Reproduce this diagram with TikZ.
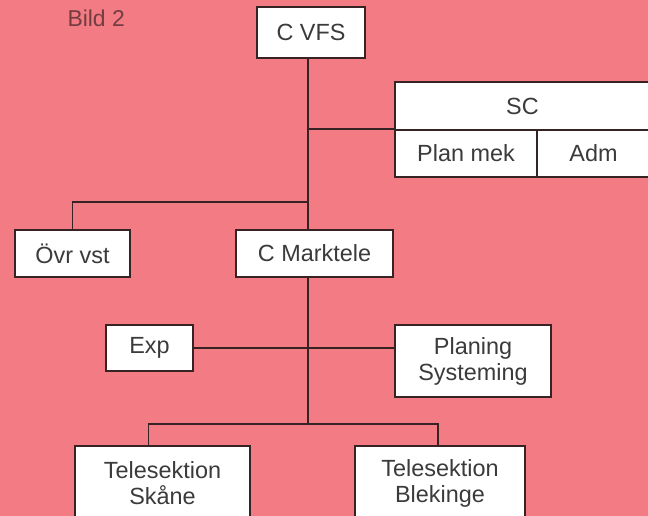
\documentclass[tikz,border=0pt]{standalone}
\usepackage{fontspec}
\setmainfont{Liberation Sans}
\usetikzlibrary{positioning}
\definecolor{bgpink}{RGB}{243,124,132}
\definecolor{inkline}{RGB}{55,35,35}
\definecolor{inktext}{RGB}{60,58,60}
\definecolor{caption}{RGB}{115,60,65}
\tikzset{
  unit/.style={draw=inkline,line width=1.6pt,fill=white,rectangle,inner sep=0pt,
    align=center,text=inktext,font=\fontsize{23.5}{26}\selectfont},
  conn/.style={draw=inkline,line width=1.8pt}
}
\begin{document}
\begin{tikzpicture}[x=1bp,y=-1bp]
\fill[bgpink] (0,0) rectangle (648,516);
\useasboundingbox (0,0) rectangle (648,516);
\node[anchor=west,text=caption,font=\fontsize{23}{26}\selectfont] (bild) at (64,18) {Bild 2};
% top
\node[unit,minimum width=108bp,minimum height=51bp] (cvfs) at (311,32.5) {C VFS};
\node[unit,minimum width=255bp,minimum height=48bp] (sc) at (522.5,106) {SC};
\node[unit,minimum width=142bp,minimum height=47bp] (planmek) at (466,153.5) {Plan mek};
\node[unit,minimum width=113bp,minimum height=47bp] (adm) at (593.5,153.5) {Adm};
% middle
\node[unit,minimum width=115bp,minimum height=47bp] (ovr) at (72.5,253.5) {Övr vst};
\node[unit,minimum width=157bp,minimum height=47bp] (cmark) at (314.5,253.5) {C Marktele};
\node[unit,minimum width=87bp,minimum height=46bp] (exp) at (149.5,348) {Exp};
\node[unit,minimum width=156bp,minimum height=72bp] (plan) at (473,361) {Planing\\Systeming};
% bottom
\node[unit,minimum width=175bp,minimum height=74bp] (skane) at (162.5,483) {Telesektion\\Skåne};
\node[unit,minimum width=170bp,minimum height=74bp] (blek) at (440,483) {Telesektion\\Blekinge};
% connectors
\coordinate (split1) at (308,202);
\coordinate (split2) at (308,424);
\draw[conn] (cvfs.south -| split1) -- (split1 |- cmark.north);
\draw[conn] (split1 |- planmek.north west) -- (planmek.north west);
\draw[conn] (split1) -| (ovr.north);
\draw[conn] (cmark.south -| split2) -- (split2);
\draw[conn] (exp.east) -- (exp.east -| plan.west);
\draw[conn] ([xshift=-14bp]skane.north) |- (split2) -| ([xshift=-2bp]blek.north);
\end{tikzpicture}
\end{document}
